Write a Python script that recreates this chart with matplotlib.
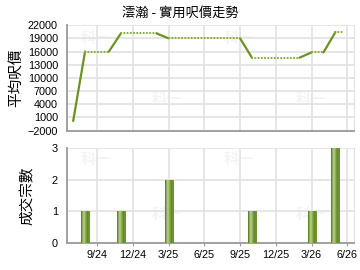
import matplotlib
matplotlib.use("Agg")
import matplotlib.pyplot as plt
import numpy as np

plt.rcParams["font.family"] = ["Liberation Sans", "Noto Sans CJK TC", "DejaVu Sans"]

title = "澐瀚 - 實用呎價走勢"
price_label = "平均呎價"
count_label = "成交宗數"

# months counted from Jan 2024 = 1
line_months = [7, 8, 10, 11, 14, 15, 21, 22, 26, 27, 28, 29, 29.7]
line_values = [200, 16000, 16000, 20100, 20100, 19000, 19000, 14600, 14600, 15800, 15800, 20400, 20400]
# True = solid segment (consecutive months with deals), False = dotted carry-over
segment_solid = [True, False, True, False, True, False, True, False, True, False, True, False]

bar_months = [8, 11, 15, 22, 27, 29]
bar_counts = [1, 1, 2, 1, 1, 3]

tick_months = [9, 12, 15, 18, 21, 24, 27, 30]
tick_labels = ["9/24", "12/24", "3/25", "6/25", "9/25", "12/25", "3/26", "6/26"]
price_ticks = list(range(-2000, 22001, 3000))
count_ticks = [0, 1, 2, 3]

solid_color = "#6b9225"
dot_color = "#86ad3c"
grid_color = "#e2e2e2"
spine_color = "#9a9a9a"
cjk = ["Noto Sans CJK TC", "DejaVu Sans"]

fig = plt.figure(figsize=(3.6, 2.7), dpi=100)
ax1 = fig.add_axes([0.186, 0.516, 0.797, 0.391])
ax2 = fig.add_axes([0.186, 0.100, 0.797, 0.352])

xlim = (6.48, 30.55)


def style_axes(ax):
    ax.set_xlim(*xlim)
    ax.set_xticks(tick_months)
    ax.grid(True, color=grid_color, linewidth=1.2)
    ax.set_axisbelow(True)
    ax.spines["left"].set_color(spine_color)
    ax.spines["bottom"].set_color(spine_color)
    ax.spines["left"].set_linewidth(1.3)
    ax.spines["bottom"].set_linewidth(1.3)
    ax.spines["top"].set_visible(False)
    ax.spines["right"].set_color(grid_color)
    ax.tick_params(axis="y", length=0, pad=6.5, labelsize=7.8, colors="#000000")
    ax.tick_params(axis="x", length=2.5, color=spine_color, pad=2.5, labelsize=7.8)


# faint watermarks
for ax in (ax1, ax2):
    for px, py in [(0.1, 0.88), (0.35, 0.3), (0.6, 0.88), (0.85, 0.3)]:
        ax.text(px, py, "科一", transform=ax.transAxes, fontsize=11, fontweight="bold",
                color="#f4f4f4", ha="center", va="center", family=cjk, zorder=0.5)

# price line
style_axes(ax1)
for i, solid in enumerate(segment_solid):
    xs = line_months[i:i + 2]
    ys = line_values[i:i + 2]
    if solid:
        ax1.plot(xs, ys, color=solid_color, linewidth=1.6, solid_capstyle="round", zorder=3)
    else:
        ax1.plot(xs, ys, color=dot_color, linewidth=1.5, linestyle=(0, (0.1, 1.45)),
                 dash_capstyle="round", zorder=3)
ax1.set_ylim(-2000, 22000)
ax1.set_yticks(price_ticks)
ax1.set_xticklabels([])
ax1.tick_params(axis="x", length=0)
ax1.set_ylabel(price_label, family=cjk, fontsize=10.5, labelpad=3)

# deal counts with a shaded gradient
style_axes(ax2)
bars = ax2.bar(bar_months, bar_counts, width=0.67, color="#8aab4a", edgecolor="#5f8420",
               linewidth=0.6, zorder=3)
grad = np.array([[0.0, 0.55, 0.8, 0.6, 0.3, 0.05, 0.15]])
cmap = matplotlib.colors.LinearSegmentedColormap.from_list("g", ["#5e8520", "#b5cd86"])
for b in bars:
    x0, y0 = b.get_x(), b.get_y()
    im = ax2.imshow(grad, extent=[x0, x0 + b.get_width(), y0, y0 + b.get_height()],
                    aspect="auto", cmap=cmap, zorder=3.5, interpolation="bilinear")
    im.set_clip_path(b)
ax2.set_xlim(*xlim)
ax2.set_ylim(0, 3)
ax2.set_yticks(count_ticks)
ax2.set_xticklabels(tick_labels)
ax2.set_ylabel(count_label, family=cjk, fontsize=10.5, labelpad=12)

fig.text(0.5, 0.952, title, ha="center", va="center", fontsize=9.5, family=cjk)

fig.savefig("out.png", dpi=100)
